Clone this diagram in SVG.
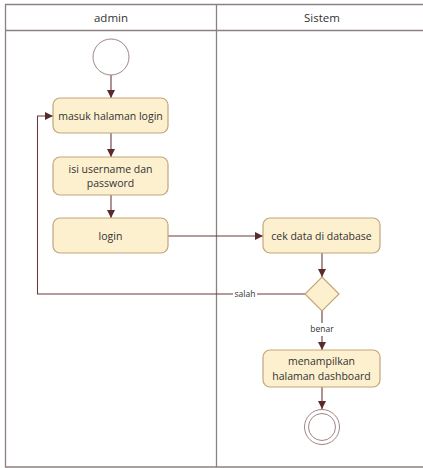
<svg xmlns="http://www.w3.org/2000/svg" width="423" height="468" viewBox="0 0 423 468">
<style>
.lane{fill:none;stroke:#8c8083;stroke-width:1.3}
.hdr{font-family:"Open Sans","Liberation Sans",sans-serif;font-size:11.5px;fill:#333;text-anchor:middle}
.box{fill:#fdf0cf;stroke:#c2a679;stroke-width:1.2}
.t{font-family:"Open Sans","Liberation Sans",sans-serif;font-size:10.5px;fill:#333;text-anchor:middle}
.lbl{font-family:"Open Sans","Liberation Sans",sans-serif;font-size:8.5px;fill:#333;text-anchor:middle}
.e{fill:none;stroke:#6b3b3b;stroke-width:1.1}
.term{fill:#fff;stroke:#a08585;stroke-width:1}
</style>
<defs>
<marker id="ah" viewBox="0 0 10 10" refX="10" refY="5" markerWidth="8" markerHeight="8" markerUnits="userSpaceOnUse" orient="auto"><path d="M0,0 L10,5 L0,10 z" fill="#5a2a2a"/></marker>
</defs>
<rect width="423" height="468" fill="#fff"/>
<g id="lanes">
<path class="lane" d="M430,4.5 H5.5 V467 H430 M5.5,30.5 H430 M216.5,4.5 V467"/>
<text class="hdr" x="111" y="22">admin</text>
<text class="hdr" x="322" y="22">Sistem</text>
</g>
<g id="connectors">
<path class="e" d="M111,75 V98" marker-end="url(#ah)"/>
<path class="e" d="M111,133 V157" marker-end="url(#ah)"/>
<path class="e" d="M111,195 V218" marker-end="url(#ah)"/>
<path class="e" d="M168,236 H263" marker-end="url(#ah)"/>
<path class="e" d="M322,253 V277" marker-end="url(#ah)"/>
<path class="e" d="M305,294 H257 M233,294 H37.5 V116 H53" marker-end="url(#ah)"/>
<text class="lbl" x="245" y="297">salah</text>
<path class="e" d="M322,311 V323 M322,336 V350" marker-end="url(#ah)"/>
<text class="lbl" x="322" y="332">benar</text>
<path class="e" d="M322,387 V409" marker-end="url(#ah)"/>
</g>
<g id="start"><circle class="term" cx="111" cy="57" r="18"/></g>
<g id="masuk"><rect class="box" x="53" y="98" width="115" height="35" rx="7"/><text class="t" x="110.5" y="119.5">masuk halaman login</text></g>
<g id="isi"><rect class="box" x="53" y="157" width="115" height="38" rx="7"/><text class="t" x="110.5" y="172.5">isi username dan</text><text class="t" x="110.5" y="187">password</text></g>
<g id="login"><rect class="box" x="53" y="218" width="115" height="35" rx="7"/><text class="t" x="110.5" y="239.5">login</text></g>
<g id="cek"><rect class="box" x="263" y="218" width="117" height="35" rx="7"/><text class="t" x="321.5" y="239.5">cek data di database</text></g>
<g id="decision"><path class="box" d="M322,277 L339,294 L322,311 L305,294 Z"/></g>
<g id="tampil"><rect class="box" x="263" y="350" width="117" height="37" rx="7"/><text class="t" x="321.5" y="365">menampilkan</text><text class="t" x="321.5" y="380">halaman dashboard</text></g>
<g id="end"><circle class="term" cx="322" cy="427" r="17.5"/><circle class="term" cx="322" cy="427" r="13.5"/></g>
</svg>
